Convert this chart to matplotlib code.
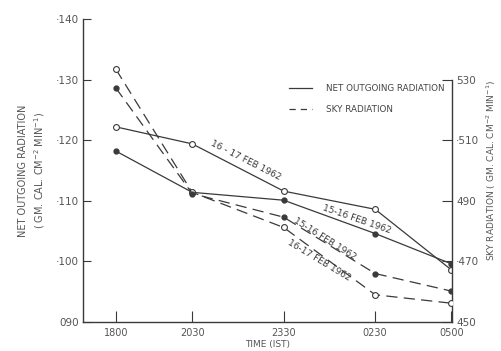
"""Net outgoing radiation and sky radiation, 15-17 Feb 1962."""

import matplotlib
matplotlib.use("Agg")
import matplotlib.pyplot as plt
from matplotlib.lines import Line2D

# Daten
ZEIT_H = [0, 2.5, 5.5, 8.5, 11]          # hours after 1800 IST
ZEIT_LABELS = ["1800", "2030", "2330", "0230", "0500"]

NETTO_1617 = [122.2, 119.4, 111.6, 108.6, 98.6]    # open circles
NETTO_1516 = [118.2, 111.4, 110.1, 104.6, 99.6]    # solid dots
HIMMEL_1617 = [533.4, 492.8, 481.2, 459.0, 456.2]  # open circles
HIMMEL_1516 = [527.2, 492.4, 484.6, 466.0, 460.2]  # solid dots

LINKS_TICKS = [90, 100, 110, 120, 130, 140]
LINKS_LABELS = ["090", "·100", "·110", "·120", "·130", "·140"]
RECHTS_TICKS = [450, 470, 490, 510, 530]
RECHTS_LABELS = ["450", "·470", "490", "·510", "530"]

FARBE = "#3a3a3a"
plt.rcParams["font.family"] = "DejaVu Sans"

fig = plt.figure(figsize=(5.01, 3.51), dpi=100)
ax = fig.add_axes([0.1657, 0.0826, 0.7365, 0.8632])
ax2 = ax.twinx()

# Net outgoing radiation (solid)
ax.plot(ZEIT_H, NETTO_1617, "-", color=FARBE, lw=0.9, marker="o", ms=4.2,
        mfc="white", mec=FARBE, mew=0.8, zorder=3)
ax.plot(ZEIT_H, NETTO_1516, "-", color=FARBE, lw=0.9, marker="o", ms=3.5,
        mfc=FARBE, mec=FARBE, zorder=3)

# Sky radiation (dashed)
ax2.plot(ZEIT_H, HIMMEL_1617, color=FARBE, lw=0.9, dashes=(9, 5), marker="o",
         ms=4.2, mfc="white", mec=FARBE, mew=0.8, zorder=3)
ax2.plot(ZEIT_H, HIMMEL_1516, color=FARBE, lw=0.9, dashes=(9, 5), marker="o",
         ms=3.5, mfc=FARBE, mec=FARBE, zorder=3)

ax.set_xlim(-1.08, 11.02)
ax.set_ylim(90, 140)
ax2.set_ylim(450, 550)

ax.set_xticks(ZEIT_H)
ax.set_xticklabels(ZEIT_LABELS, fontsize=7, color="#555555")
ax.set_yticks(LINKS_TICKS)
ax.set_yticklabels(LINKS_LABELS, fontsize=7.5, color="#555555")
ax2.set_yticks(RECHTS_TICKS)
ax2.set_yticklabels(RECHTS_LABELS, fontsize=7.5, color="#555555")

ax.tick_params(axis="x", direction="in", length=8, width=0.8, color=FARBE, pad=4)
ax.tick_params(axis="y", direction="in", length=6, width=0.8, color=FARBE, pad=3)
ax2.tick_params(axis="y", direction="in", length=7, width=0.8, color=FARBE, pad=3)

for a in (ax, ax2):
    a.spines["top"].set_visible(False)
    for s in a.spines.values():
        s.set_color(FARBE)
        s.set_linewidth(1.0)
ax.spines["right"].set_visible(False)
ax2.spines["left"].set_visible(False)
ax2.spines["bottom"].set_visible(False)
ax2.spines["right"].set_bounds(450, 530)

ax.set_xlabel("TIME (IST)", fontsize=6.5, color="#555555", labelpad=2)
ax.set_ylabel("NET OUTGOING RADIATION\n( GM. CAL. CM$^{-2}$ MIN$^{-1}$)",
              fontsize=7, color="#555555", labelpad=6, linespacing=1.4)
ax2.set_ylabel("SKY RADIATION ( GM. CAL. CM$^{-2}$ MIN$^{-1}$)",
               fontsize=6.5, color="#555555", labelpad=4)

# Beschriftungen an den Kurven
ax.text(4.25, 116.6, "16 - 17 FEB 1962", rotation=-27, fontsize=6.5,
        color=FARBE, ha="center", va="center")
ax.text(7.9, 107.0, "15-16 FEB 1962", rotation=-19, fontsize=6.5,
        color=FARBE, ha="center", va="center")
ax2.text(6.85, 477.5, "15-16 FEB 1962", rotation=-32, fontsize=6.5,
         color=FARBE, ha="center", va="center")
ax2.text(6.65, 470.5, "16-17 FEB 1962", rotation=-31, fontsize=6.5,
         color=FARBE, ha="center", va="center")

# Legende
griffe = [Line2D([], [], color=FARBE, lw=0.9),
          Line2D([], [], color=FARBE, lw=0.9, dashes=(5, 4))]
leg = ax.legend(griffe, ["NET OUTGOING RADIATION", "SKY RADIATION"],
                loc="upper right", bbox_to_anchor=(1.0, 0.81), frameon=False,
                fontsize=6.3, handlelength=2.6, handletextpad=1.6,
                labelspacing=1.3)
for t in leg.get_texts():
    t.set_color("#444444")

fig.savefig("out.png", dpi=100)
